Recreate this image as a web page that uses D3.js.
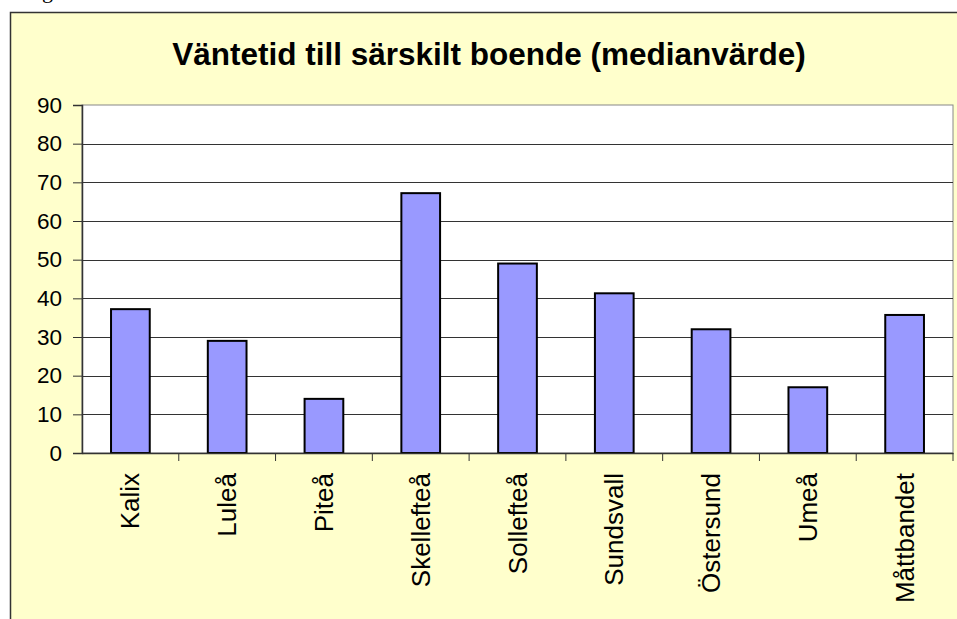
<!DOCTYPE html>
<html>
<head>
<meta charset="utf-8">
<script src="https://cdn.jsdelivr.net/npm/d3@7"></script>
<style>
  body { margin: 0; background: #fff; }
  svg { display: block; }
</style>
</head>
<body>
<div id="chart"></div>
<script>
const categories = ['Kalix', 'Luleå', 'Piteå', 'Skellefteå', 'Sollefteå', 'Sundsvall', 'Östersund', 'Umeå', 'Måttbandet'];
const values = [37.2, 29, 14, 67.2, 49, 41.3, 32, 17, 35.7];
const yTicks = [0, 10, 20, 30, 40, 50, 60, 70, 80, 90];
const title = 'Väntetid till särskilt boende (medianvärde)';

const width = 957;
const height = 619;
const plot = { left: 82, right: 953, top: 105, bottom: 453 };
const font = 'Liberation Sans, Arial, sans-serif';

let svg = d3.select('#chart').append('svg')
    .attr('width', width)
    .attr('height', height);

// bit of the page heading that sticks in from above
svg.append('text')
    .attr('x', 42)
    .attr('y', -2)
    .attr('font-family', 'Liberation Serif, serif')
    .attr('font-size', 22)
    .text('g');

// chart area
svg.append('rect')
    .attr('x', 10.5)
    .attr('y', 12.5)
    .attr('width', 960)
    .attr('height', 620)
    .attr('fill', '#ffffcc')
    .attr('stroke', '#333')
    .attr('stroke-width', 1.5);

svg.append('text')
    .attr('x', 489)
    .attr('y', 65)
    .attr('text-anchor', 'middle')
    .attr('font-family', font)
    .attr('font-weight', 'bold')
    .attr('font-size', 31.5)
    .text(title);

let x = d3.scaleBand()
    .domain(categories)
    .range([plot.left, plot.right])
    .paddingInner(0.6)
    .paddingOuter(0.3);

let xOuter = d3.scaleBand()
    .domain(categories)
    .range([plot.left, plot.right]);

let y = d3.scaleLinear()
    .domain([0, 90])
    .range([plot.bottom, plot.top]);

// plot background
svg.append('rect')
    .attr('x', plot.left)
    .attr('y', plot.top)
    .attr('width', plot.right - plot.left)
    .attr('height', plot.bottom - plot.top)
    .attr('fill', '#fff')
    .attr('stroke', '#888')
    .attr('stroke-width', 1);

// gridlines
svg.append('g')
    .selectAll('line')
    .data(yTicks.filter(d => d > 0 && d < 90))
    .enter()
    .append('line')
    .attr('x1', plot.left)
    .attr('x2', plot.right)
    .attr('y1', d => Math.round(y(d)) + 0.5)
    .attr('y2', d => Math.round(y(d)) + 0.5)
    .attr('stroke', '#333')
    .attr('stroke-width', 1);

// bars
svg.append('g')
    .selectAll('rect')
    .data(values)
    .enter()
    .append('rect')
    .attr('x', (d, i) => x(categories[i]))
    .attr('y', d => y(d))
    .attr('width', x.bandwidth())
    .attr('height', d => plot.bottom - y(d))
    .attr('fill', '#9999ff')
    .attr('stroke', '#000')
    .attr('stroke-width', 2);

// y axis
let yAxis = svg.append('g')
    .attr('transform', `translate(${plot.left},0)`)
    .call(d3.axisLeft(y).tickValues(yTicks).tickSize(9).tickPadding(11));
yAxis.select('.domain').attr('stroke', '#333').attr('stroke-width', 1.5);
yAxis.selectAll('.tick line').attr('stroke', '#333');
yAxis.selectAll('text')
    .attr('font-family', font)
    .attr('font-size', 22.5)
    .attr('fill', '#000');

// x axis
let xAxis = svg.append('g')
    .attr('transform', `translate(0,${plot.bottom})`)
    .call(d3.axisBottom(xOuter).tickSize(0).tickPadding(0));
xAxis.select('.domain').attr('stroke', '#333').attr('stroke-width', 1.5);
xAxis.selectAll('text')
    .attr('font-family', font)
    .attr('font-size', 26)
    .attr('fill', '#000')
    .attr('text-anchor', 'end')
    .attr('dy', '0.35em')
    .attr('transform', 'translate(0,20) rotate(-90)');

// category separators
svg.append('g')
    .selectAll('line')
    .data(categories)
    .enter()
    .append('line')
    .attr('x1', d => xOuter(d) + xOuter.bandwidth())
    .attr('x2', d => xOuter(d) + xOuter.bandwidth())
    .attr('y1', plot.bottom)
    .attr('y2', plot.bottom + 8)
    .attr('stroke', '#333');
</script>
</body>
</html>
